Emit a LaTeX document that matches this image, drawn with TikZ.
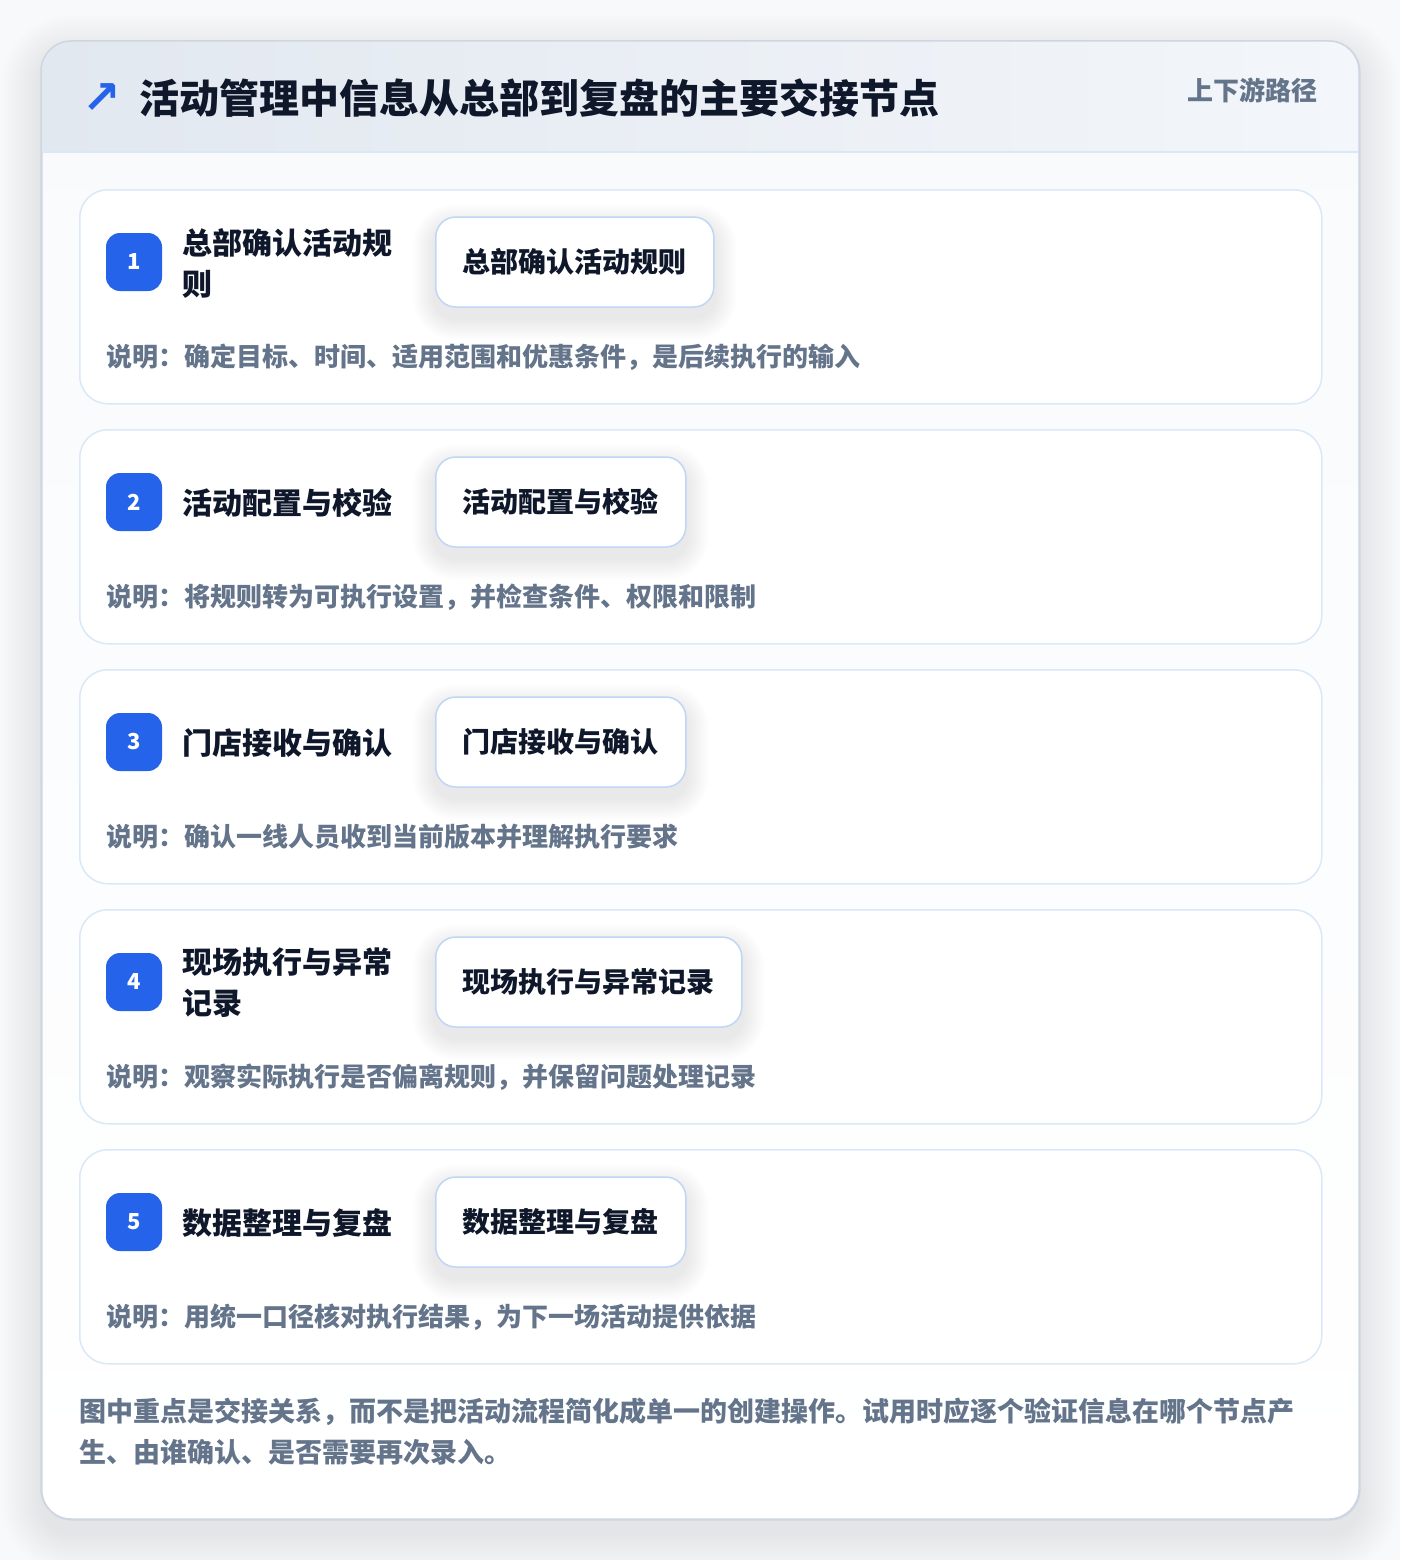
\documentclass[tikz,border=0pt]{standalone}
\usepackage{fontspec}
\setmainfont{Noto Sans CJK SC}
\newfontfamily\symfont{DejaVu Sans}
\definecolor{pagebg}{HTML}{F8F9FA}
\definecolor{cardborder}{HTML}{CDD6E2}
\definecolor{bodybg}{HTML}{F8FAFC}
\definecolor{headL}{HTML}{E2E8F0}
\definecolor{headR}{HTML}{F3F6FA}
\definecolor{headline}{HTML}{DCE7F5}
\definecolor{stepborder}{HTML}{DBE8F8}
\definecolor{chipborder}{HTML}{BFD6F6}
\definecolor{accent}{HTML}{2563EB}
\definecolor{ink}{HTML}{0F172A}
\definecolor{muted}{HTML}{64748B}
\definecolor{shadowc}{HTML}{1E293B}
\pgfdeclarelayer{cards}
\pgfdeclarelayer{shadows}
\pgfsetlayers{cards,shadows,main}
\tikzset{
  stepcard/.style={draw=stepborder, line width=1.5pt, fill=white, rounded corners=28pt, anchor=north west, minimum width=1242pt, minimum height=214pt, inner sep=0pt},
  badge/.style={fill=accent, rounded corners=14pt, minimum width=56pt, minimum height=58pt, inner sep=0pt, text=white, font=\fontsize{22}{26}\selectfont\bfseries},
  steptitle/.style={anchor=west, text=ink, align=left, inner sep=0pt, font=\fontsize{30}{41}\selectfont\bfseries},
  chip/.style={anchor=west, draw=chipborder, line width=1.5pt, fill=white, rounded corners=20pt, minimum height=90pt, inner xsep=27pt, text=ink, font=\fontsize{28}{32}\selectfont\bfseries},
  softshadow/.style={fill=shadowc, opacity=0.006},
  desc/.style={anchor=west, text=muted, inner sep=0pt, font=\fontsize{26}{30}\selectfont\bfseries},
}
\begin{document}
\begin{tikzpicture}[x=1pt, y=-1pt]
\begin{pgfonlayer}{cards}
\useasboundingbox (0,0) rectangle (1400,1560);
\fill[pagebg] (0,0) rectangle (1400,1560);
% outer card soft shadow
\foreach \r in {2,4,...,40}{
  \fill[shadowc, opacity=0.005, rounded corners=30pt+\r pt] (41-\r,41-\r+14) rectangle (1359+\r,1519+\r+14);
}
% outer card
\node[draw=cardborder, line width=1.5pt, top color=bodybg, bottom color=white, rounded corners=30pt, anchor=north west, minimum width=1318pt, minimum height=1478pt, inner sep=0pt] (outer) at (41,41) {};
\begin{scope}
  \clip[rounded corners=30pt] (41,41) rectangle (1359,1519);
  \shade[left color=headL, right color=headR] (41,41) rectangle (1359,152);
\end{scope}
\draw[headline, line width=1.5pt] (42,152) -- (1358,152);
\draw[cardborder, line width=1.5pt, rounded corners=30pt] (41,41) rectangle (1359,1519);
\end{pgfonlayer}
% header
\node[text=accent, inner sep=0pt, font=\symfont\fontsize{46}{46}\selectfont\bfseries] (icon) at (102,99) {↗};
\node[anchor=west, text=ink, inner sep=0pt, font=\fontsize{40}{44}\selectfont\bfseries] (title) at (139,98) {活动管理中信息从总部到复盘的主要交接节点};
\node[anchor=east, text=muted, inner sep=0pt, font=\fontsize{26}{30}\selectfont\bfseries] (path) at (1318,90) {上下游路径};
% steps
\foreach \i/\t/\c/\d [count=\k from 0] in {
  1/{总部确认活动规\\则}/总部确认活动规则/{说明：确定目标、时间、适用范围和优惠条件，是后续执行的输入},
  2/活动配置与校验/活动配置与校验/{说明：将规则转为可执行设置，并检查条件、权限和限制},
  3/门店接收与确认/门店接收与确认/{说明：确认一线人员收到当前版本并理解执行要求},
  4/{现场执行与异常\\记录}/现场执行与异常记录/{说明：观察实际执行是否偏离规则，并保留问题处理记录},
  5/数据整理与复盘/数据整理与复盘/{说明：用统一口径核对执行结果，为下一场活动提供依据}}{
  \pgfmathsetmacro{\T}{189+240*\k}
  \begin{pgfonlayer}{cards}
    \node[stepcard] (card\i) at (79,\T) {};
  \end{pgfonlayer}
  \node[badge] (badge\i) at (134,\T+73) {\i};
  \node[steptitle] (stitle\i) at (182,\T+74) {\t};
  \node[chip] (chip\i) at (435,\T+73) {\c};
  \begin{pgfonlayer}{shadows}
    \foreach \r in {2,4,...,22}{
      \fill[softshadow, rounded corners=20pt+\r pt]
        ([xshift=-\r pt, yshift=\r pt-10pt]chip\i.north west) rectangle ([xshift=\r pt, yshift=-\r pt-10pt]chip\i.south east);
    }
  \end{pgfonlayer}
  \node[desc] (desc\i) at (106,\T+168) {\d};
}
% footer
\node[anchor=north west, text=muted, align=left, inner sep=0pt, font=\fontsize{27}{41}\selectfont\bfseries] (note) at (79,1398) {图中重点是交接关系，而不是把活动流程简化成单一的创建操作。试用时应逐个验证信息在哪个节点产\\生、由谁确认、是否需要再次录入。};
\end{tikzpicture}
\end{document}
